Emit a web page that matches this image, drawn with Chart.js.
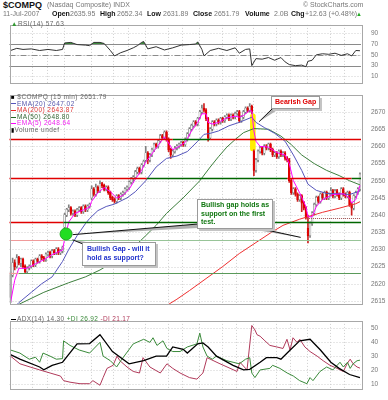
<!DOCTYPE html>
<html>
<head>
<meta charset="utf-8">
<script src="https://cdn.jsdelivr.net/npm/chart.js@4.4.1/dist/chart.umd.min.js"></script>
<style>
  body { margin: 0; width: 388px; height: 400px; overflow: hidden; position: relative; background: #fff;
         font-family: Arial, 'Liberation Sans', sans-serif; }
  canvas { position: absolute; left: 0; }
  .t { position: absolute; white-space: nowrap; font-size: 7px; line-height: 8px; color: #777; z-index: 5; }
  .b { font-weight: bold; color: #111; }
  .lg { position: absolute; left: 11px; font-size: 6.5px; line-height: 6.6px; color: #666; letter-spacing: 0.45px; z-index: 5; white-space: nowrap; }
  .sw { display: inline-block; width: 5px; height: 1px; vertical-align: middle; margin-right: 1px; }
  .box { position: absolute; background: #fff; border: 1px solid #9a9a9a; box-shadow: 2px 2px 0 #c4c4c4;
         font-size: 7px; font-weight: bold; line-height: 8.5px; padding: 1px 3px; white-space: nowrap; z-index: 6; }
</style>
</head>
<body>
<div class="t b" style="left:3px;top:0px;font-size:9px;line-height:10px">$COMPQ</div>
<div class="t" style="left:47px;top:1px">(Nasdaq Composite) INDX</div>
<div class="t" style="left:303px;top:1px">© StockCharts.com</div>
<div class="t" style="left:3px;top:10px">11-Jul-2007</div>
<div class="t b" style="left:52px;top:10px">Open</div><div class="t" style="left:70px;top:10px">2635.95</div>
<div class="t b" style="left:100px;top:10px">High</div><div class="t" style="left:117px;top:10px">2652.34</div>
<div class="t b" style="left:147px;top:10px">Low</div><div class="t" style="left:163px;top:10px">2631.89</div>
<div class="t b" style="left:193px;top:10px">Close</div><div class="t" style="left:214px;top:10px">2651.79</div>
<div class="t b" style="left:245px;top:10px">Volume</div><div class="t" style="left:274px;top:10px">2.0B</div>
<div class="t b" style="left:291px;top:10px">Chg</div><div class="t" style="left:305px;top:10px">+12.63 (+0.48%)</div>
<div class="t" style="left:356px;top:10px;color:#2a2;font-size:6px">▲</div>

<canvas id="rsi" width="388" height="70" style="top:19px"></canvas>
<canvas id="main" width="388" height="227" style="top:89px"></canvas>
<canvas id="adx" width="388" height="85" style="top:315px"></canvas>

<div class="lg" style="top:21px"><span style="color:#393">▲</span>RSI(14) 57.63</div>
<div class="lg" style="top:94px">
  <div><span style="color:#000;font-size:6px">■</span> $COMPQ (15 min) 2651.79</div>
  <div style="color:#5555aa"><span class="sw" style="background:#5555bb"></span>EMA(20) 2647.02</div>
  <div style="color:#dd3333"><span class="sw" style="background:#ee2222"></span>MA(200) 2643.87</div>
  <div style="color:#336633"><span class="sw" style="background:#226622"></span>MA(50) 2648.80</div>
  <div style="color:#ee22ee"><span class="sw" style="background:#ff00ff"></span>EMA(5) 2648.64</div>
  <div><span style="color:#000;font-size:6px">▮</span>Volume undef</div>
</div>
<div class="lg" style="top:316px;letter-spacing:0.35px"><span class="sw" style="background:#000;height:1.5px"></span>ADX(14) 14.30 <span style="color:#3a8a3a">+DI 26.92</span> <span style="color:#b03a5a">-DI 21.17</span></div>

<div class="box" style="left:271px;top:96px;color:#e00000">Bearish Gap</div>
<div class="box" style="left:82px;top:242px;color:#2233cc;padding:2px 5px 3px 4px">Bullish Gap - will it<br>hold as support?</div>
<div class="box" style="left:197px;top:199px;color:#117711">Bullish gap holds as<br>support on the first<br>test.</div>

<script>
// ---- 15-minute candles, one array per session: [open, high, low, close]
const jul02 = [
  [2616,2623.5,2614.5,2622.5],[2622.5,2627.5,2622,2626],[2626,2627,2624,2625],[2625,2628.5,2624.5,2627.5],
  [2627.5,2628,2625.5,2626],[2626,2627.5,2625,2627],[2627,2627.5,2624.5,2625],[2625,2625.5,2623,2623.5],
  [2623.5,2625,2623,2624.5],[2624.5,2625.5,2624,2625],[2625,2627,2624.5,2626.5],[2626.5,2627,2625,2625.5],
  [2625.5,2627.5,2625,2627],[2627,2627.5,2626,2626.5],[2626.5,2628.5,2626,2628],[2628,2628.5,2627,2627.5],
  [2627.5,2628,2626.5,2627],[2627,2629,2626.5,2628.5],[2628.5,2629.5,2628,2629],[2629,2629.5,2627.5,2628],
  [2628,2630,2627.5,2629.5],[2629.5,2630,2628.5,2629],[2629,2630.5,2628.5,2630],[2630,2630.5,2628.5,2629],
  [2629,2630,2628.5,2629.5],[2629.5,2631,2629,2630.5]
];
const jul03 = [
  [2636.5,2640.5,2636,2640],[2640,2642,2639.5,2641.5],[2641.5,2643,2641,2642],[2642,2642.5,2640,2640.5],
  [2640.5,2641.5,2640,2641],[2641,2641.5,2639.5,2640],[2640,2642,2639.5,2641.5],[2641.5,2642.5,2641,2642],
  [2642,2642.5,2640.5,2641],[2641,2643,2640.5,2642.5],[2642.5,2643,2641,2641.5],[2641.5,2643,2641,2642.5],
  [2642.5,2643.5,2642,2643]
];
const jul05 = [
  [2645,2648.5,2644.5,2647.5],[2647.5,2648,2645.5,2646],[2646,2649,2645.5,2648],[2648,2648.5,2646.5,2647],
  [2647,2650,2646.5,2649],[2649,2649.5,2648,2648.5],[2648.5,2649,2647,2647.5],[2647.5,2648.5,2647,2648],
  [2648,2648.5,2646,2646.5],[2646.5,2647,2644.5,2645],[2645,2645.5,2644,2644.5],[2644.5,2645,2643.5,2644],
  [2644,2646,2643.5,2645.5],[2645.5,2646,2644.5,2645],[2645,2646.5,2644.5,2646],[2646,2647,2645.5,2646.5],
  [2646.5,2648,2646,2647.5],[2647.5,2648.5,2647,2648],[2648,2650,2647.5,2649.5],[2649.5,2651,2649,2650.5],
  [2650.5,2651.5,2649.5,2651],[2651,2653,2650.5,2652.5],[2652.5,2654,2652,2653.5],[2653.5,2654,2652,2652.5],
  [2652.5,2655,2652,2654.5],[2654.5,2656,2654,2655.5]
];
const jul06 = [
  [2656,2660,2655.5,2658],[2658,2658.5,2655,2656],[2656,2658,2655.5,2657.5],[2657.5,2659.5,2657,2659],
  [2659,2661,2658.5,2660.5],[2660.5,2661,2659.5,2660],[2660,2662,2659.5,2661.5],[2661.5,2663.5,2661,2663],
  [2663,2663.5,2662,2662.5],[2662.5,2664.5,2662,2664],[2664,2664.5,2661.5,2662],[2662,2662.5,2658.5,2659],
  [2659,2659.5,2656.5,2657.5],[2657.5,2659,2657,2658.5],[2658.5,2660,2658,2659.5],[2659.5,2660.5,2659,2660],
  [2660,2661,2659.5,2660.5],[2660.5,2661.5,2660,2661],[2661,2661.5,2660,2660.5],[2660.5,2662.5,2660,2662],
  [2662,2664,2661.5,2663.5],[2663.5,2665.5,2663,2665],[2665,2666.5,2664.5,2666],[2666,2667.5,2665.5,2667],
  [2667,2667.5,2666,2666.5],[2666.5,2668.5,2666,2668]
];
const jul09 = [
  [2668.5,2670.5,2668,2670],[2670,2672,2669.5,2671],[2671,2672.5,2670,2670.5],[2670.5,2671,2667.5,2668],
  [2668,2668.5,2661.5,2662.5],[2662.5,2665.5,2662,2665],[2665,2667.5,2664.5,2667],[2667,2667.5,2666,2666.5],
  [2666.5,2668,2666,2667.5],[2667.5,2668,2666.5,2667],[2667,2668.5,2666.5,2668],[2668,2668.5,2667,2667.5],
  [2667.5,2669,2667,2668.5],[2668.5,2669.5,2668,2669],[2669,2669.5,2667.5,2668],[2668,2669.5,2667.5,2669],
  [2669,2669.5,2668,2668.5],[2668.5,2670,2668,2669.5],[2669.5,2670.5,2669,2670],[2670,2670.5,2667,2667.5],
  [2667.5,2669,2667,2668.5],[2668.5,2670.5,2668,2670],[2670,2671.5,2669.5,2671],[2671,2671.5,2670,2670.5],
  [2670.5,2672.5,2670,2671.5],[2671.5,2672,2669.5,2670]
];
const jul10 = [
  [2658.5,2659,2651.5,2653],[2653,2656.5,2652.5,2656],[2656,2659,2655.5,2658.5],[2658.5,2660,2658,2659.5],
  [2659.5,2660,2657.5,2658],[2658,2660.5,2657.5,2660],[2660,2660.5,2659,2659.5],[2659.5,2661,2659,2660.5],
  [2660.5,2661,2658.5,2659],[2659,2659.5,2657,2657.5],[2657.5,2658.5,2657,2658],[2658,2658.5,2656.5,2657],
  [2657,2659,2656.5,2658.5],[2658.5,2659,2657,2657.5],[2657.5,2658.5,2657,2658],[2658,2658.5,2656,2656.5],
  [2656.5,2657,2655.5,2656],[2656,2656.5,2649.5,2650],[2650,2650.5,2646,2646.5],[2646.5,2648,2646,2647.5],
  [2647.5,2648,2645.5,2646],[2646,2646.5,2644,2644.5],[2644.5,2646,2644,2645.5],[2645.5,2646,2641,2643.5],
  [2643.5,2644,2641.5,2642],[2642,2642.5,2638.8,2639.2]
];
const jul11 = [
  [2636,2640,2631.9,2634],[2634,2638,2633.5,2637.5],[2637.5,2641,2637,2640.5],[2640.5,2643.5,2640,2643],
  [2643,2645.5,2642.5,2645],[2645,2645.5,2643.5,2644],[2644,2646.5,2643.5,2646],[2646,2646.5,2644.5,2645],
  [2645,2647,2644.5,2646.5],[2646.5,2647,2644.5,2645],[2645,2646.5,2644.5,2646],[2646,2648,2645.5,2647],
  [2647,2647.5,2645,2645.5],[2645.5,2647.5,2645,2647],[2647,2647.5,2645.5,2646],[2646,2646.5,2644.5,2645],
  [2645,2648,2644.5,2647.5],[2647.5,2648,2645.5,2646],[2646,2646.5,2645,2645.5],[2645.5,2647,2645,2646.5],
  [2646.5,2647,2642.5,2643],[2643,2643.5,2640,2642],[2642,2646,2641.5,2645.5],[2645.5,2647,2645,2646.5],
  [2646.5,2648,2646,2647.5],[2647.5,2652.3,2647,2651.8]
];

// ---- overlays: [bar index, value]
const ema5Pts = [[0,2614.5],[2,2621],[4,2624.5],[8,2624.5],[12,2625.8],[16,2627],[20,2628.5],[25,2629.8],[26,2633],
  [28,2638],[31,2640.5],[35,2641.5],[38,2642.3],[39,2644],[42,2646.5],[45,2648],[48,2646.8],[51,2645],[54,2645.7],
  [57,2647.5],[60,2650.5],[63,2653],[65,2655.5],[67,2657],[70,2659.5],[74,2662.8],[76,2661],[78,2659],[81,2660],
  [84,2661.2],[87,2664.5],[90,2667],[92,2669.5],[94,2669.5],[95,2667],[97,2666.5],[100,2667],[104,2668.3],
  [108,2668.8],[110,2668.5],[112,2669],[115,2670.5],[116,2670.3],[117,2664.5],[118,2661.5],[120,2660],[124,2659.8],
  [128,2658.2],[132,2657.5],[134,2655],[136,2650],[139,2646.5],[142,2642.5],[143,2639.5],[145,2639.5],[147,2642.5],
  [150,2644.5],[155,2646],[160,2646.2],[163,2645],[164,2643.5],[166,2644.5],[168,2648.6]];
const ema20Pts = [[0,2612],[4,2614.5],[10,2617.5],[15,2620],[20,2622],[25,2626.5],[28,2630],[32,2634],[36,2637.5],
  [38,2639],[42,2641.3],[46,2642.5],[50,2643.2],[56,2645],[60,2646.8],[65,2650],[70,2654],[75,2656.5],[80,2657.2],
  [85,2658.5],[90,2661.5],[93,2663.5],[96,2663.8],[100,2664.5],[105,2666],[110,2667],[116,2668.5],[118,2667],
  [122,2665.5],[127,2663.8],[132,2661.5],[136,2657.5],[140,2653],[143,2649],[147,2647.2],[152,2646.3],[158,2646.2],
  [163,2646],[168,2647]];
const ma50Pts = [[0,2610],[4,2614],[16,2617.5],[28,2620.3],[36,2622],[43,2624],[51,2627],[59,2630.5],[65,2634],
  [70,2637],[75,2640.5],[83,2645],[91,2650],[96,2654],[100,2657],[104,2659.8],[108,2662],[112,2664],[117,2665.2],
  [124,2665],[130,2663],[135,2660.5],[140,2657.5],[146,2655],[152,2653],[158,2651.5],[163,2650],[168,2648.8]];
const ma200Pts = [[72,2612.5],[80,2615.5],[86,2618],[94,2621.5],[102,2625],[110,2628.8],[118,2632],[125,2634.8],
  [131,2637],[139,2638.8],[150,2640.8],[158,2642],[166,2643.3],[168,2643.9]];
const rsiPts = [[0,58],[3,62],[6,60],[10,61],[14,58],[18,60],[22,58],[25,60],[26,72],[29,73],[32,69],[36,68],[38,67],
  [40,73],[43,73],[45,71],[48,58],[50,48],[53,54],[56,58],[59,63],[61,67],[63,73],[64,74.6],[66,61],[70,65],[74,59],
  [78,63],[82,68],[86,69],[89,70],[90,74],[92,60],[93,48],[96,58],[100,62],[104,58],[108,63],[110,53],[113,60],
  [115,61],[116,30],[118,43],[121,42],[124,45],[127,40],[130,45],[132,37],[134,32],[137,30],[140,31],[142,28],
  [143,38],[145,40],[147,50],[150,52],[153,51],[156,53],[159,49],[162,52],[164,48],[166,58],[168,57.6]];
const adxPts = [[0,30.9],[4.5,27.6],[14,22],[16,20],[20,23.2],[25,25.4],[32,38.6],[38,38.8],[43,45.2],[49,33.1],
  [57,24.3],[64,26.5],[70,29.8],[75,29.8],[78,36.4],[83,34.7],[85,32],[90,38.6],[92.5,39.3],[95,36.4],[99,29.8],
  [107,23.2],[112,19.9],[115,20.3],[120,25.4],[123,28.7],[128,28.7],[130,27.6],[133,32],[139,40.8],[144,41.9],
  [149,34.2],[154,25.4],[158,21],[163,16.6],[168,14.3]];
const plusDiPts = [[0,34.2],[4.5,32],[9,27.6],[12,29],[14,25.4],[15.6,32],[19,29.8],[22,27.6],[25,28],[25.5,40.8],
  [28.6,37.5],[33,34.2],[38,32],[43,39.7],[44.5,29.8],[48,26.5],[51,22],[53,26.5],[59,38.6],[64,41.9],[67,39.7],
  [68.5,43],[70.4,37.5],[73.3,40.8],[75.2,35.3],[78,33.1],[81.5,33.1],[85,36.4],[89.6,38.6],[91,46.3],[92.5,36.4],
  [94.5,29.8],[97,27.6],[99,29.8],[104,26.5],[107,25.4],[110,24.3],[113,27.6],[115,28.7],[116,17.7],[117.5,14.4],
  [120,19.9],[124.7,21],[126,23.2],[129.5,21],[133,17.7],[136,15.5],[139,12.2],[142.5,10],[144,14.4],[145.4,12.2],
  [148.8,18.8],[152,22],[155,19.9],[158.4,25.4],[160,22],[162,25.4],[163.3,21],[164.7,24.3],[166.6,26.5],[168,26.9]];
const minusDiPts = [[0,29.8],[4.5,24.3],[9.4,22],[14,19.9],[19,17.7],[24,15.5],[25.5,12.2],[28.6,11.1],[33.4,10],
  [38,10],[39.6,12.2],[43,8.9],[44.5,14.4],[46.4,21],[49.3,23.2],[51.2,29.8],[52.6,26.5],[56,22],[59,18.8],[62,17.7],
  [63.7,28.7],[67,22],[72,17.7],[75.2,24.3],[78,21],[81.5,17.7],[86,14.4],[89.6,13.3],[91,15.5],[92.5,17.7],
  [94.5,28.7],[100.7,24.3],[108.9,18.8],[110.3,25.4],[113.7,19.9],[116,51.8],[117.5,48.6],[118.5,45.2],[120,44.1],
  [122.3,40.8],[124.7,37.5],[128,36.4],[131,35.3],[132.9,41.9],[134.4,34.2],[135.8,43],[137.7,39.7],[139.1,41.9],
  [141.5,36.4],[144,33.1],[147.4,29.8],[150.3,26.5],[153.6,23.2],[157,21],[158.4,19.9],[160,18.8],[161.8,24.3],
  [163.3,27.6],[164.7,24.3],[166.6,22],[168,21.2]];

// ---- axis ticks
const xTickPos = [-0.5, 10.5, 17.5, 25.5, 38.5, 49.5, 56.5, 64.5, 75.5, 82.5, 90.5, 101.5, 108.5, 116.5, 127.5, 134.5, 142.5, 153.5, 160.5];
const xTickText = ['2Jul','12','2','3Jul','5Jul','12','2','6Jul','12','2','9Jul','12','2','10Jul','12','2','11Jul','12','2'];
const priceTicks = [2615, 2620, 2625, 2630, 2635, 2640, 2645, 2650, 2655, 2660, 2665, 2670];
const rsiTicks = [10, 30, 50, 70, 90];
const adxTicks = [10, 20, 30, 40, 50];

// ---- drawn-in annotations (price level, from bar, to bar)
const RED = '#e00000', GRN = '#006600';
const levels = [
  [2662.2, -0.5, 78, RED, 1.5], [2662.2, 78, 96, GRN, 1.5], [2662.2, 96, 168.5, RED, 1.5],
  [2650.9, -0.5, 65.5, RED, 1.5], [2650.9, 65.5, 133, GRN, 1.5], [2650.9, 133, 164, RED, 1.5], [2650.9, 164, 168.5, GRN, 1.5],
  [2638.1, -0.5, 25.5, RED, 1.5], [2638.1, 25.5, 168.5, GRN, 1.5],
  [2632.7, -0.5, 25.5, '#f09a9a', 1], [2632.7, 25.5, 168.5, '#98c498', 1],
  [2623.1, -0.5, 4, '#f09a9a', 1.2], [2623.1, 4, 168.5, '#5a9a5a', 1.2]
];

const candles = [...jul02, ...jul03, ...jul05, ...jul06, ...jul09, ...jul10, ...jul11];
const pts = a => a.map(p => ({ x: p[0], y: p[1] }));
const up = c => c[3] >= c[0];

const NBARS = candles.length;
const xMin = -0.5, xMax = NBARS - 0.5;

function gridPlugin(yTicks, extra) {
  return {
    id: 'gridFrame',
    beforeDatasetsDraw(chart) {
      const { ctx, chartArea: a, scales: { x, y } } = chart;
      ctx.save();
      ctx.strokeStyle = '#cfcfcf';
      ctx.lineWidth = 1;
      ctx.setLineDash([1, 2]);
      ctx.beginPath();
      xTickPos.forEach(v => {
        if (v <= xMin) return;
        const px = Math.round(x.getPixelForValue(v)) + 0.5;
        ctx.moveTo(px, a.top); ctx.lineTo(px, a.bottom);
      });
      yTicks.forEach(v => {
        const py = Math.round(y.getPixelForValue(v)) + 0.5;
        ctx.moveTo(a.left, py); ctx.lineTo(a.right, py);
      });
      ctx.stroke();
      ctx.restore();
      if (extra && extra.before) extra.before(chart);
    },
    afterDatasetsDraw(chart) {
      if (extra && extra.after) extra.after(chart);
      const { ctx, chartArea: a } = chart;
      ctx.save();
      ctx.strokeStyle = '#a8a8a8';
      ctx.lineWidth = 1;
      ctx.strokeRect(Math.round(a.left) + 0.5, Math.round(a.top) + 0.5, Math.round(a.right - a.left), Math.round(a.bottom - a.top));
      ctx.restore();
    }
  };
}

function xScale(showLabels) {
  return {
    type: 'linear', min: xMin, max: xMax, offset: false,
    grid: { display: false }, border: { display: false },
    afterBuildTicks: s => { s.ticks = xTickPos.map(v => ({ value: v })); },
    afterFit: s => { s.height = showLabels ? 11 : 0; },
    ticks: {
      display: showLabels, autoSkip: false, maxRotation: 0, padding: 2,
      callback: (v, i) => xTickText[i],
      color: c => /Jul/.test(xTickText[c.index]) ? '#000' : '#777',
      font: c => ({ family: 'Arial', size: 7, weight: /Jul/.test(xTickText[c.index]) ? 'bold' : 'normal' })
    }
  };
}

function yScale(min, max, ticks) {
  return {
    type: 'linear', position: 'right', min, max,
    grid: { display: false }, border: { display: false },
    afterBuildTicks: s => { s.ticks = ticks.map(v => ({ value: v })); },
    afterFit: s => { s.width = 27; },
    ticks: { autoSkip: false, padding: 2, color: '#777', font: { family: 'Arial', size: 6.5 }, callback: v => String(v) }
  };
}

function baseOptions(padBottom, xs, ys) {
  return {
    responsive: false, animation: false, devicePixelRatio: 1, events: [],
    layout: { padding: { left: 9.5, right: 0, top: 0, bottom: padBottom }, autoPadding: false },
    plugins: { legend: { display: false }, tooltip: { enabled: false } },
    scales: { x: xs, y: ys }
  };
}

const lineDs = (data, color, w) => ({
  type: 'line', data: pts(data), borderColor: color, borderWidth: w || 1, pointRadius: 0, tension: 0, fill: false, order: 0
});

// ---------- RSI panel
new Chart(document.getElementById('rsi'), {
  type: 'line',
  data: { datasets: [{
    data: pts(rsiPts), borderColor: '#333', borderWidth: 1, pointRadius: 0, tension: 0,
    fill: { target: { value: 70 }, above: '#3c8c3c', below: 'rgba(0,0,0,0)' }
  }] },
  options: baseOptions(0, xScale(false), yScale(-2.3, 105.4, rsiTicks)),
  plugins: [gridPlugin(rsiTicks, {
    before(chart) {
      const { ctx, chartArea: a, scales: { y } } = chart;
      ctx.save();
      ctx.strokeStyle = '#8a8a8a'; ctx.lineWidth = 1;
      [70, 30].forEach(v => {
        const py = Math.round(y.getPixelForValue(v)) + 0.5;
        ctx.beginPath(); ctx.moveTo(a.left, py); ctx.lineTo(a.right, py); ctx.stroke();
      });
      ctx.setLineDash([6, 2, 1, 2]);
      const p5 = Math.round(y.getPixelForValue(50)) + 0.5;
      ctx.beginPath(); ctx.moveTo(a.left, p5); ctx.lineTo(a.right, p5); ctx.stroke();
      ctx.restore();
    }
  })]
});

// ---------- price panel
const mainAnno = {
  before(chart) {
    const { ctx, scales: { x, y } } = chart;
    // yellow mark on the bearish gap
    const gx = x.getPixelForValue(116.5), gt = y.getPixelForValue(2669.6), gb = y.getPixelForValue(2658.6);
    ctx.save();
    ctx.fillStyle = '#ffee00';
    ctx.beginPath();
    ctx.roundRect(gx - 2.8, gt, 5.6, gb - gt, 2.5);
    ctx.fill();
    ctx.restore();
  },
  after(chart) {
    const { ctx, chartArea: a, scales: { x, y } } = chart;
    ctx.save();
    levels.forEach(([v, f, t, col, w]) => {
      const py = Math.round(y.getPixelForValue(v)) + (w % 2 ? 0.5 : 0);
      ctx.strokeStyle = col; ctx.lineWidth = w;
      ctx.beginPath(); ctx.moveTo(x.getPixelForValue(f), py); ctx.lineTo(x.getPixelForValue(t), py); ctx.stroke();
    });
    // prior close marker on the last session
    ctx.strokeStyle = '#a05050'; ctx.lineWidth = 1; ctx.setLineDash([1, 1]);
    const pc = Math.round(y.getPixelForValue(2639.2)) + 0.5;
    ctx.beginPath(); ctx.moveTo(x.getPixelForValue(142.5), pc); ctx.lineTo(a.right, pc); ctx.stroke();
    ctx.setLineDash([]);
    // green circle on the bullish gap
    ctx.fillStyle = '#22dd22'; ctx.strokeStyle = '#22aa22';
    ctx.beginPath(); ctx.arc(x.getPixelForValue(26.7), y.getPixelForValue(2634.5), 6, 0, Math.PI * 2); ctx.fill(); ctx.stroke();
    // callout pointers (tip in data space, base at the text box)
    const wedge = (ti, tv, b1, b2) => {
      const tx = x.getPixelForValue(ti), ty = y.getPixelForValue(tv);
      const oy = chart.canvas.offsetTop;
      ctx.fillStyle = '#b0b0b0'; ctx.strokeStyle = '#111'; ctx.lineWidth = 1;
      ctx.beginPath(); ctx.moveTo(tx, ty); ctx.lineTo(b1[0], b1[1] - oy); ctx.lineTo(b2[0], b2[1] - oy); ctx.closePath(); ctx.fill();
      ctx.beginPath(); ctx.moveTo(tx, ty); ctx.lineTo(b1[0], b1[1] - oy); ctx.stroke();
    };
    wedge(119.5, 2667.2, [274, 107], [282, 107]);
    wedge(29.8, 2632.8, [83, 244], [86, 242]);
    wedge(29.9, 2634.3, [198, 224], [198, 228]);
    wedge(139.5, 2633.5, [262, 229], [250, 229]);
    ctx.restore();
  }
};

new Chart(document.getElementById('main'), {
  type: 'bar',
  data: { datasets: [
    lineDs(ema5Pts, '#ff00ff', 1),
    lineDs(ema20Pts, '#5555bb', 1),
    lineDs(ma50Pts, '#3d7f3d', 1),
    lineDs(ma200Pts, '#ee3030', 1),
    { type: 'bar', order: 2, grouped: false, barThickness: 1.8, borderSkipped: false, borderWidth: 0.5,
      data: candles.map((c, i) => ({ x: i, y: [Math.min(c[0], c[3]), Math.max(c[0], c[3]) + 0.15] })),
      backgroundColor: candles.map(c => up(c) ? '#f4f4f4' : '#e60000'),
      borderColor: candles.map(c => up(c) ? '#707070' : '#d40000') },
    { type: 'bar', order: 3, grouped: false, barThickness: 1,
      data: candles.map((c, i) => ({ x: i, y: [c[2], c[1]] })),
      backgroundColor: candles.map(c => up(c) ? '#808080' : '#d02020') }
  ] },
  options: baseOptions(1, xScale(true), yScale(2614.1, 2675.0, priceTicks)),
  plugins: [gridPlugin(priceTicks, mainAnno)]
});

// ---------- ADX panel
new Chart(document.getElementById('adx'), {
  type: 'line',
  data: { datasets: [
    lineDs(adxPts, '#000000', 1.3),
    lineDs(plusDiPts, '#3a8a3a', 1),
    lineDs(minusDiPts, '#b03a5a', 1)
  ] },
  options: baseOptions(0, xScale(true), yScale(6.2, 55.1, adxTicks)),
  plugins: [gridPlugin(adxTicks)]
});
</script>
</body>
</html>
